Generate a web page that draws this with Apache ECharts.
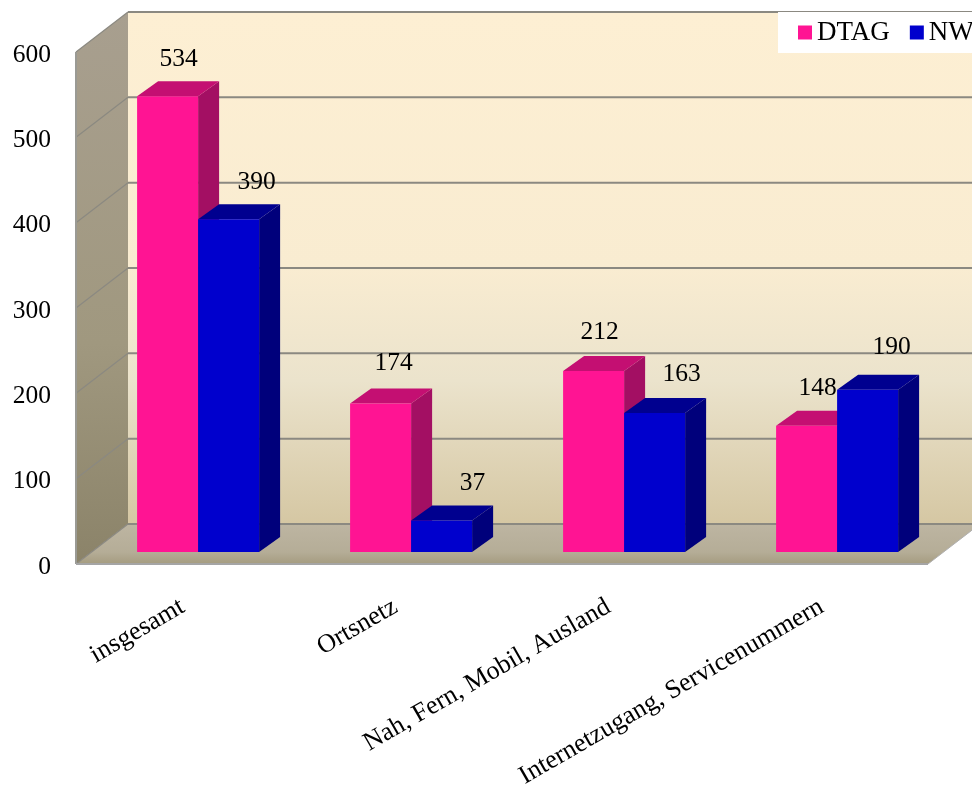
<!DOCTYPE html>
<html>
<head>
<meta charset="utf-8">
<style>html,body{margin:0;padding:0;background:#fff}#c{width:972px;height:787px}</style>
<script src="https://cdn.jsdelivr.net/npm/echarts@6/dist/echarts.min.js"></script>
</head>
<body>
<div id="c"></div>
<script>
const categories = ['insgesamt', 'Ortsnetz', 'Nah, Fern, Mobil, Ausland', 'Internetzugang, Servicenummern'];
const dtag = [534, 174, 212, 148];
const nw = [390, 37, 163, 190];
const yTicks = [0, 100, 200, 300, 400, 500, 600];
// hand-placed data-label nudges seen in the reference
const dtagLabelNudge = [[0, 3], [2, 0], [-5, 1], [0, 3]];
const nwLabelNudge = [[2, 3], [5, 3], [1, 1], [-2, -3]];

const FONT = '"Liberation Serif", "Times New Roman", serif';
const LG = echarts.graphic.LinearGradient;
const WALL = {dx: 52, dy: -40};
const FRONT = {dx: 15.6, dy: -12};
const BAR = {dx: 21, dy: -15, frac: 0.2864};

function poly(points, fill, extra) {
  return Object.assign({type: 'polygon', silent: true, shape: {points}, style: {fill}}, extra || {});
}
function line(a, b, stroke, w) {
  return {type: 'line', silent: true, shape: {x1: a[0], y1: a[1], x2: b[0], y2: b[1]}, style: {stroke, lineWidth: w}};
}

function renderWalls(params, api) {
  const cs = params.coordSys;
  const L = cs.x, R = cs.x + cs.width, T = cs.y, B = cs.y + cs.height;
  const d = WALL;
  const kids = [
    poly([[L + d.dx, T + d.dy], [R + d.dx, T + d.dy], [R + d.dx, B + d.dy], [L + d.dx, B + d.dy]],
      new LG(0, 0, 0, 1, [
        {offset: 0, color: '#fdefd3'}, {offset: 0.5, color: '#f9ecd1'},
        {offset: 0.72, color: '#ebe3cc'}, {offset: 1, color: '#d5c7a3'}])),
    poly([[L, T], [L + d.dx, T + d.dy], [L + d.dx, B + d.dy], [L, B]],
      new LG(0, 0, 0, 1, [{offset: 0, color: '#a89f8f'}, {offset: 0.6, color: '#a0987f'}, {offset: 1, color: '#8b8369'}])),
    poly([[L, B], [R, B], [R + d.dx, B + d.dy], [L + d.dx, B + d.dy]],
      new LG(0, 0, 0, 1, [{offset: 0, color: '#bdb5a2'}, {offset: 0.7, color: '#b5ad97'}, {offset: 1, color: '#a59c80'}]))
  ];
  yTicks.forEach(t => {
    const y = api.coord([0, t])[1];
    kids.push(line([L, y], [L + d.dx, y + d.dy], '#8b8981', 1.2));
    kids.push(line([L + d.dx, y + d.dy], [R + d.dx, y + d.dy], '#8b8981', 2));
  });
  kids.push(line([L, T], [L, B], '#9a9a94', 2));
  kids.push(line([L, B], [R, B], '#a5a5a5', 2));
  kids.push(line([R, B], [R + d.dx, B + d.dy], '#b0b0b0', 1));
  return {type: 'group', children: kids};
}

function barRenderer(side, colors, labelDx, nudges) {
  return function (params, api) {
    const idx = api.value(0), val = api.value(1);
    const band = api.size([1, 0])[0];
    const w = band * BAR.frac;
    const c = api.coord([idx, val]);
    const c0 = api.coord([idx, 0]);
    const x0 = c[0] + FRONT.dx + (side < 0 ? -w : 0);
    const x1 = x0 + w;
    const yT = c[1] + FRONT.dy, yB = c0[1] + FRONT.dy;
    const dx = BAR.dx, dy = BAR.dy;
    const n = nudges[idx];
    return {type: 'group', children: [
      poly([[x1, yT], [x1 + dx, yT + dy], [x1 + dx, yB + dy], [x1, yB]], colors.side),
      poly([[x0, yT], [x0 + dx, yT + dy], [x1 + dx, yT + dy], [x1, yT]], colors.top),
      poly([[x0, yT], [x1, yT], [x1, yB], [x0, yB]], colors.front),
      {type: 'text', silent: true, z2: 100, x: (x0 + x1) / 2 + labelDx + n[0], y: yT + dy - 25 + n[1],
        style: {text: String(val), fill: '#000', font: '25.5px ' + FONT, align: 'center', verticalAlign: 'middle'}}
    ]};
  };
}

const chart = echarts.init(document.getElementById('c'), null, {renderer: 'canvas'});
chart.setOption({
  animation: false,
  backgroundColor: '#fff',
  textStyle: {fontFamily: FONT},
  legend: {
    left: 778, top: 12, width: 400,
    padding: [7, 40, 7, 20],
    backgroundColor: '#fff',
    icon: 'rect', itemWidth: 14, itemHeight: 14, itemGap: 20,
    selectedMode: false,
    data: ['DTAG', 'NW'],
    textStyle: {fontFamily: FONT, fontSize: 27, color: '#000'}
  },
  grid: {left: 76, top: 52, width: 852, height: 512, containLabel: false, outerBoundsMode: 'none'},
  xAxis: {
    type: 'category', data: categories,
    axisLine: {show: false}, axisTick: {show: false}, splitLine: {show: false},
    axisLabel: {interval: 0, rotate: 30, margin: 41, fontFamily: FONT, fontSize: 26, color: '#000', hideOverlap: false}
  },
  yAxis: {
    type: 'value', min: 0, max: 600, interval: 100,
    axisLine: {show: false}, axisTick: {show: false}, splitLine: {show: false},
    axisLabel: {margin: 25, verticalAlign: 'top', lineHeight: 6, fontFamily: FONT, fontSize: 25.5, color: '#000'}
  },
  series: [
    {type: 'custom', name: 'walls', silent: true, z: 1, renderItem: renderWalls, data: [[0, 0]]},
    {type: 'custom', name: 'DTAG', z: 2, itemStyle: {color: '#ff1493'},
      renderItem: barRenderer(-1, {front: '#ff1493', side: '#a30f63', top: '#c40f72'}, 11, dtagLabelNudge),
      data: dtag.map((v, i) => [i, v])},
    {type: 'custom', name: 'NW', z: 3, itemStyle: {color: '#0000cd'},
      renderItem: barRenderer(1, {front: '#0000cd', side: '#00007b', top: '#00008f'}, 26, nwLabelNudge),
      data: nw.map((v, i) => [i, v])}
  ]
});
</script>
</body>
</html>
